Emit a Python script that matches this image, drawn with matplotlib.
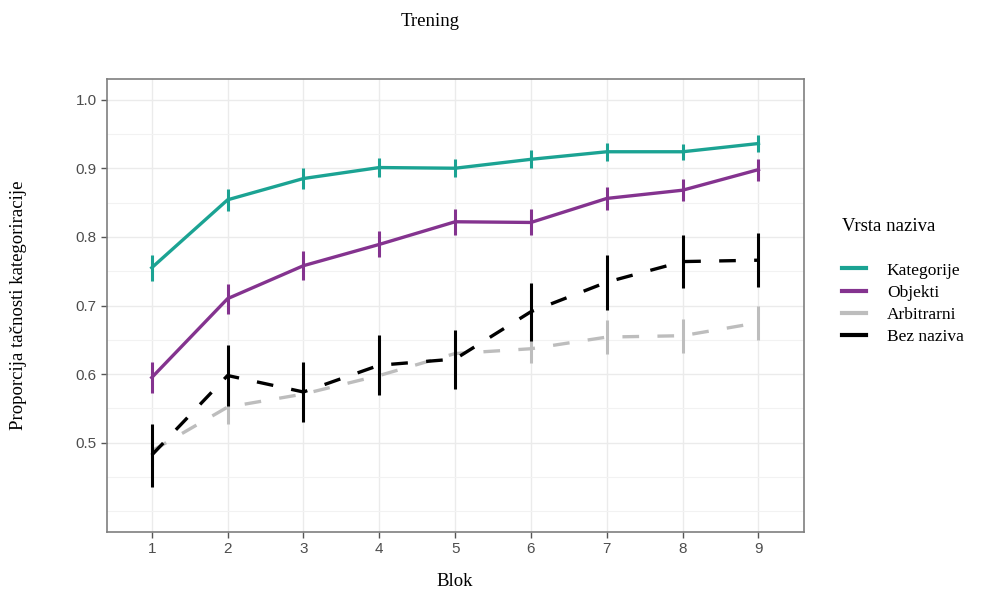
import matplotlib.pyplot as plt
from matplotlib.ticker import MultipleLocator

blok = [1, 2, 3, 4, 5, 6, 7, 8, 9]

kategorije = [0.755, 0.854, 0.885, 0.901, 0.900, 0.913, 0.924, 0.924, 0.936]
kategorije_se = [0.019, 0.016, 0.015, 0.014, 0.013, 0.013, 0.013, 0.012, 0.012]

objekti = [0.595, 0.710, 0.758, 0.789, 0.822, 0.821, 0.856, 0.868, 0.898]
objekti_se = [0.023, 0.022, 0.021, 0.019, 0.019, 0.019, 0.017, 0.016, 0.016]

arbitrarni = [0.488, 0.552, 0.571, 0.598, 0.630, 0.637, 0.654, 0.656, 0.675]
arbitrarni_se = [0.022, 0.025, 0.022, 0.022, 0.022, 0.021, 0.025, 0.025, 0.025]

bez_naziva = [0.482, 0.598, 0.574, 0.613, 0.622, 0.691, 0.734, 0.764, 0.766]
bez_naziva_se = [0.046, 0.044, 0.044, 0.044, 0.043, 0.042, 0.040, 0.039, 0.039]

nazivi = ["Kategorije", "Objekti", "Arbitrarni", "Bez naziva"]
boje = ["#1ba393", "#84338f", "#bdbdbd", "#000000"]
stilovi = ["-", "-", (0, (5, 5.5)), (0, (5, 5.5))]

serif = "Liberation Serif"

fig = plt.figure(figsize=(9.84, 5.96), dpi=100)
ax = fig.add_axes([107 / 984, 1 - 532 / 596, (804 - 107) / 984, (532 - 79) / 596])

serije = [(kategorije, kategorije_se), (objekti, objekti_se),
          (arbitrarni, arbitrarni_se), (bez_naziva, bez_naziva_se)]

handles = []
for (vrednosti, se), naziv, boja, stil in zip(serije, nazivi, boje, stilovi):
    # error bars (no caps, like ggplot width=0)
    ax.vlines(blok, [v - s for v, s in zip(vrednosti, se)],
              [v + s for v, s in zip(vrednosti, se)],
              color=boja, lw=2.2, zorder=3)
    ln, = ax.plot(blok, vrednosti, color=boja, lw=2.4, linestyle=stil,
                  label=naziv, zorder=3)
    handles.append(ln)

ax.set_xlim(0.41, 9.6)
ax.set_ylim(0.37, 1.03)
ax.set_xticks(blok)
ax.set_yticks([0.5, 0.6, 0.7, 0.8, 0.9, 1.0])
ax.set_yticklabels(["0.5", "0.6", "0.7", "0.8", "0.9", "1.0"])
ax.yaxis.set_minor_locator(MultipleLocator(0.05))

ax.grid(True, which="major", color="#ebebeb", lw=1.0, zorder=0)
ax.grid(True, which="minor", axis="y", color="#f2f2f2", lw=0.8, zorder=0)
ax.tick_params(which="minor", length=0)
ax.tick_params(which="major", length=4, width=1, color="#555555",
               labelsize=11, labelcolor="#4d4d4d")
for lbl in ax.get_xticklabels() + ax.get_yticklabels():
    lbl.set_fontfamily("Liberation Sans")
for s in ax.spines.values():
    s.set_color("#7f7f7f")
    s.set_linewidth(1.2)

fig.text(430 / 984, 1 - 22 / 596, "Trening", family=serif, fontsize=13.5,
         ha="center", va="center")
fig.text(455 / 984, 1 - 582 / 596, "Blok", family=serif, fontsize=13.5,
         ha="center", va="center")
fig.text(19 / 984, 1 - 305 / 596, "Proporcija tačnosti kategoriracije",
         family=serif, fontsize=13.5, rotation=90, ha="center", va="center")

leg = fig.legend(handles=[plt.Line2D([], [], color=b, lw=3) for b in boje],
                 labels=nazivi, loc="upper left",
                 bbox_to_anchor=(826 / 984, 1 - 202 / 596),
                 frameon=False, title="Vrsta naziva",
                 prop={"family": serif, "size": 12.5},
                 handlelength=1.4, handletextpad=1.2, labelspacing=0.35)
leg.get_title().set_fontfamily(serif)
leg.get_title().set_fontsize(13.5)
leg._legend_box.align = "left"
leg._legend_box.sep = 20

fig.savefig("out.png", dpi=100)
